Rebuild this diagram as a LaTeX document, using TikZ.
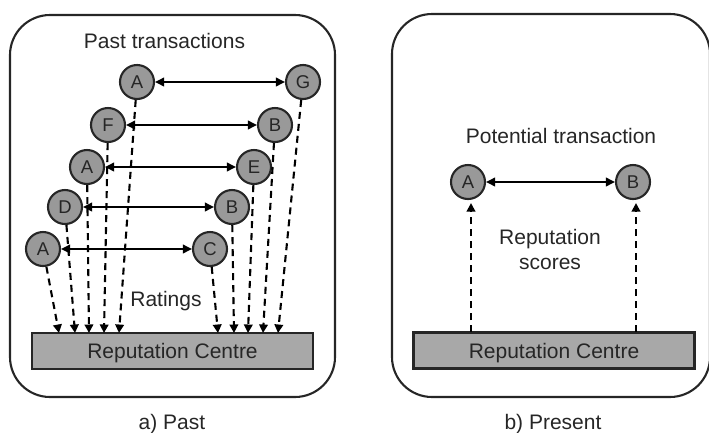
\documentclass[tikz,border=0pt]{standalone}
\usepackage{fontspec}
\setmainfont{Liberation Sans}
\usetikzlibrary{arrows.meta}
\definecolor{ink}{HTML}{262626}
\definecolor{nodefill}{HTML}{999999}
\definecolor{boxfill}{HTML}{A8A8A8}
\tikzset{
  panel/.style={draw=ink, line width=2.1pt, rounded corners=40pt},
  agent/.style={circle, draw=ink, fill=nodefill, line width=2.1pt, minimum size=34pt, inner sep=0pt, text=ink, font=\fontsize{18.5}{20}\selectfont},
  centrebox/.style={rectangle, draw=ink, fill=boxfill, line width=2.1pt, minimum width=281pt, minimum height=36pt, inner sep=0pt, text=ink, text height=15pt, text depth=0pt, font=\fontsize{21}{24}\selectfont},
  lbl/.style={text=ink, font=\fontsize{21}{24.5}\selectfont, inner sep=0pt},
  trans/.style={draw=black, line width=2.1pt, {Triangle[length=9pt,width=8.5pt]}-{Triangle[length=9pt,width=8.5pt]}},
  rating/.style={draw=black, line width=2.1pt, dash pattern=on 7pt off 5pt, -{Triangle[length=8.5pt,width=8.5pt]}},
  score/.style={draw=black, line width=2.1pt, dash pattern=on 7pt off 5pt, -{Triangle[length=8.5pt,width=8.5pt]}, shorten >=3pt},
}
\begin{document}
\begin{tikzpicture}[x=1pt,y=-1pt]
\useasboundingbox (0,0) rectangle (709,432);
% panels
\draw[panel] (10,15) rectangle (335,397);
\draw[panel] (392,14) rectangle (710,397);
% ---- left panel: past ----
\node[lbl, anchor=base] (pt) at (164.5,48) {Past transactions};
\node[agent] (a1) at (137,82) {A};
\node[agent] (g)  at (303,82) {G};
\node[agent] (f)  at (108,125) {F};
\node[agent] (b2) at (275,125) {B};
\node[agent] (a3) at (87,167) {A};
\node[agent] (e)  at (254,167) {E};
\node[agent] (d)  at (65,207) {D};
\node[agent] (b4) at (232,207) {B};
\node[agent] (a5) at (43,249) {A};
\node[agent] (c)  at (210,249) {C};
\node[lbl, anchor=base] (rt) at (166,306.5) {Ratings};
\node[centrebox] (lrc) at (172.5,351) {Reputation Centre};
\node[lbl, anchor=base] (cap1) at (172,429) {a) Past};
\draw[trans] (a1) -- (g);
\draw[trans] (f) -- (b2);
\draw[trans] (a3) -- (e);
\draw[trans] (d) -- (b4);
\draw[trans] (a5) -- (c);
\coordinate (t1) at (59,333);
\coordinate (t2) at (75,333);
\coordinate (t3) at (89,333);
\coordinate (t4) at (104,333);
\coordinate (t5) at (119,333);
\coordinate (t6) at (218,333);
\coordinate (t7) at (234,333);
\coordinate (t8) at (248,333);
\coordinate (t9) at (263,333);
\coordinate (t10) at (278,333);
\draw[rating] (a5) -- (t1);
\draw[rating] (d) -- (t2);
\draw[rating] (a3) -- (t3);
\draw[rating] (f) -- (t4);
\draw[rating] (a1) -- (t5);
\draw[rating] (c) -- (t6);
\draw[rating] (b4) -- (t7);
\draw[rating] (e) -- (t8);
\draw[rating] (b2) -- (t9);
\draw[rating] (g) -- (t10);
% ---- right panel: present ----
\node[lbl, anchor=base] (ptr) at (561,143) {Potential transaction};
\node[agent] (pa) at (468,182) {A};
\node[agent] (pb) at (633,182) {B};
\draw[trans] (pa) -- (pb);
\node[lbl, align=center, anchor=base] (rs) at (550,269) {Reputation\\scores};
\node[centrebox] (rrc) at (554,350.5) {Reputation Centre};
\node[lbl, anchor=base] (cap2) at (553,429) {b) Present};
\coordinate (sa) at (471,332);
\coordinate (sb) at (636,332);
\draw[score] (sa) -- (sa |- pa.south);
\draw[score] (sb) -- (sb |- pb.south);
\end{tikzpicture}
\end{document}
